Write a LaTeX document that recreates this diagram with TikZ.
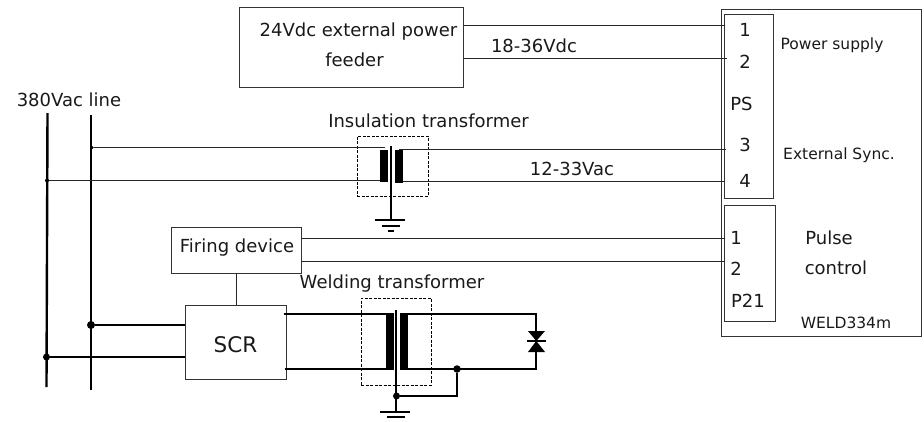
\documentclass[tikz,border=0pt]{standalone}
\usepackage{fontspec}
\setmainfont{DejaVu Sans}
\tikzset{
  box/.style={draw=black!80,line width=1pt,inner sep=0pt,fill=none},
  wire/.style={draw=black!85,line width=1pt},
  thick wire/.style={draw=black,line width=2pt},
  bus/.style={draw=black,line width=2.4pt},
  coil/.style={fill=black,draw=none,inner sep=0pt},
  dashbox/.style={draw=black,line width=.9pt,dash pattern=on 3pt off 1.5pt,inner sep=0pt},
  dot/.style={circle,fill=black,inner sep=0pt},
  lbl/.style={inner sep=0pt,font=\fontsize{18}{21}\selectfont,text=black!90},
  small/.style={inner sep=0pt,font=\fontsize{15.5}{18}\selectfont,text=black!90},
}
\begin{document}
\begin{tikzpicture}[x=1pt,y=-1pt]
\useasboundingbox (0,0) rectangle (924,421);
% boxes
\node[box,minimum width=200pt,minimum height=327pt] (outer) at (821.5,172.5) {};
\node[box,minimum width=49pt,minimum height=184pt] (ps) at (749,106.5) {};
\node[box,minimum width=51pt,minimum height=116pt] (p21) at (750,263) {};
\node[box,minimum width=224pt,minimum height=80pt] (feeder) at (351,47) {};
\node[box,minimum width=130pt,minimum height=46pt] (firing) at (236,250) {};
\node[box,minimum width=101pt,minimum height=74pt] (scr) at (236,342) {};
\node[dashbox,minimum width=71pt,minimum height=60pt] (ins) at (392.5,166) {};
\node[dashbox,minimum width=70pt,minimum height=87pt] (weld) at (396,341.5) {};
% bus lines
\coordinate (busAtop) at (47.5,113); \coordinate (busAbot) at (46.5,387);
\coordinate (busBtop) at (91,115); \coordinate (busBbot) at (91,390);
\draw[bus] (busAtop) -- (busAbot);
\draw[bus] (busBtop) -- (busBbot);
% feeder wires
\coordinate (t1) at (725,25.5); \coordinate (t2) at (727,58.5);
\draw[wire] (feeder.east |- t1) -- (t1);
\draw[wire] (feeder.east |- t2) -- (t2);
% insulation transformer
\node[coil,minimum width=8pt,minimum height=32pt] (icl) at (384,166) {};
\node[coil,minimum width=8pt,minimum height=33pt] (icr) at (399,166.5) {};
\coordinate (icoretop) at (391,146); \coordinate (ignd) at (391,220);
\draw[draw=black,line width=1.8pt] (icoretop) -- (ignd);
\node[dot,minimum size=3.5pt] (jB) at (92,147.5) {};
\node[dot,minimum size=4pt] (jA) at (47,180.5) {};
\coordinate (ilt) at (385,147.5); \coordinate (ilb) at (380,180.5);
\draw[wire] (jB) -- (ilt);
\draw[wire] (jA) -- (ilb);
\coordinate (t3) at (726,149.5); \coordinate (t4) at (725,181.5);
\coordinate (irt) at (399,149.5);
\draw[wire] (irt) -- (t3);
\draw[wire] (icr.east |- t4) -- (t4);
\coordinate (ig1l) at (375,220); \coordinate (ig1r) at (405,220);
\coordinate (ig2l) at (382,225.5); \coordinate (ig2r) at (400,225.5);
\coordinate (ig3l) at (388,231); \coordinate (ig3r) at (394,231);
\draw[thick wire] (ig1l) -- (ig1r);
\draw[thick wire] (ig2l) -- (ig2r);
\draw[thick wire] (ig3l) -- (ig3r);
% firing wires
\coordinate (t5) at (725,238.5); \coordinate (t6) at (725,261.5);
\draw[wire] (firing.east |- t5) -- (t5);
\draw[wire] (firing.east |- t6) -- (t6);
\coordinate (fs) at (236.5,273); \coordinate (st) at (236.5,305);
\draw[wire] (fs) -- (st);
% SCR feeds
\node[dot,minimum width=8pt,minimum height=6pt] (jC) at (91,325) {};
\node[dot,minimum size=7pt] (jD) at (46.5,357) {};
\draw[thick wire] (jC) -- (jC -| scr.west);
\draw[thick wire] (jD) -- (jD -| scr.west);
% welding transformer
\node[coil,minimum width=8pt,minimum height=57pt] (wcl) at (390,341) {};
\node[coil,minimum width=7.5pt,minimum height=56pt] (wcr) at (403.8,342) {};
\coordinate (wl1) at (284,313.5); \coordinate (wl2) at (285,369);
\draw[thick wire] (wl1) -- (wl1 -| wcl.east);
\draw[thick wire] (wl2) -- (wl2 -| wcl.east);
\coordinate (wcoretop) at (396,310); \coordinate (wgnd) at (396,412);
\draw[draw=black,line width=1.4pt] (wcoretop) -- (wgnd);
\coordinate (dtop) at (536,314); \coordinate (dbot) at (536,369);
\coordinate (wrt) at (400,314); \coordinate (wrb) at (400,369);
\draw[thick wire] (wrt) -- (dtop) -- (dbot) -- (wrb);
\node[dot,minimum size=7.5pt] (jE) at (457,369) {};
\node[dot,minimum size=7pt] (jF) at (396.5,396) {};
\draw[thick wire] (jE) |- (jF);
\coordinate (wg1l) at (380,412); \coordinate (wg1r) at (410,412);
\coordinate (wg2l) at (387,417); \coordinate (wg2r) at (405,417);
\draw[thick wire] (wg1l) -- (wg1r);
\draw[thick wire] (wg2l) -- (wg2r);
% diode pair
\coordinate (dc) at (536.3,341);
\fill[black] (dc) -- (528,331) -- (545,331) -- cycle;
\fill[black] (dc) -- (528,352) -- (545,352) -- cycle;
\coordinate (dbl) at (527,341); \coordinate (dbr) at (546,341);
\draw[thick wire] (dbl) -- (dbr);
% labels
\node[lbl] (l1) at (358.5,32) {24Vdc external power};
\node[lbl] (l2) at (354.5,60) {feeder};
\node[lbl] (l3) at (534,46) {18-36Vdc};
\node[lbl] (l4) at (428.5,121) {Insulation transformer};
\node[lbl] (l5) at (572,169) {12-33Vac};
\node[lbl] (l6) at (69,100) {380Vac line};
\node[lbl] (l7) at (237,248) {Firing device};
\node[lbl] (l8) at (392,284) {Welding transformer};
\node[lbl,font=\fontsize{21.5}{24}\selectfont] (l9) at (235.5,345) {SCR};
\node[lbl] (n1) at (745,30) {1};
\node[lbl] (n2) at (745,62) {2};
\node[lbl] (nps) at (741.5,104) {PS};
\node[lbl] (n3) at (745,145) {3};
\node[lbl] (n4) at (745,181) {4};
\node[small] (ps2) at (832,45.5) {Power supply};
\node[small] (es) at (839,155) {External Sync.};
\node[lbl] (m1) at (736,238) {1};
\node[lbl] (m2) at (736,269) {2};
\node[lbl] (p) at (748,301) {P21};
\node[lbl] (pu) at (829,238) {Pulse};
\node[lbl] (co) at (836,268) {control};
\node[small] (wd) at (846,323) {WELD334m};
\end{tikzpicture}
\end{document}
